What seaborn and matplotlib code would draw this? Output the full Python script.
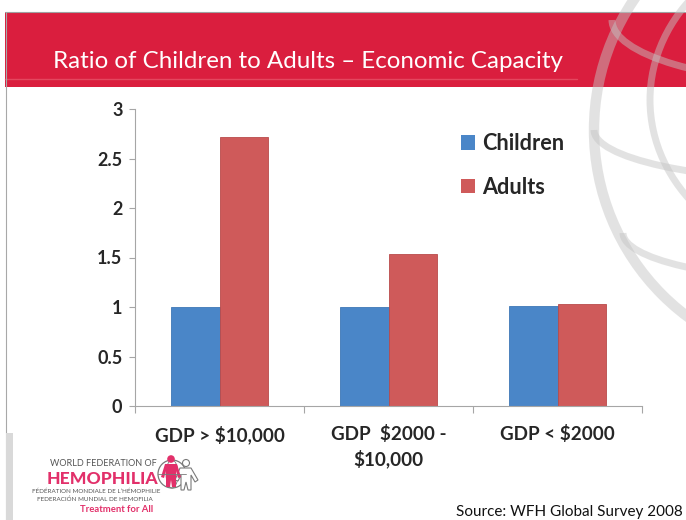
import matplotlib
matplotlib.use("Agg")
import matplotlib.pyplot as plt
import seaborn as sns
import pandas as pd
from matplotlib.patches import Rectangle, Arc, Circle, Ellipse, Polygon
from matplotlib.lines import Line2D
from matplotlib.transforms import Affine2D

# ---------------- data ----------------
categories = ["GDP > $10,000", "GDP  $2000 -\n$10,000", "GDP < $2000"]
series = ["Children", "Adults"]
children = [1.0, 1.0, 1.01]
adults = [2.72, 1.54, 1.03]
yticks = [0, 0.5, 1, 1.5, 2, 2.5, 3]
ytick_labels = ["0", "0.5", "1", "1.5", "2", "2.5", "3"]
bar_colors = ["#4A86C8", "#CF5A5A"]
title = "Ratio of Children to Adults \u2013 Economic Capacity"
source = "Source: WFH Global Survey 2008"

df = pd.DataFrame({
    "category": categories * 2,
    "series": [series[0]] * len(categories) + [series[1]] * len(categories),
    "value": children + adults,
})

sns.set_theme(style="white")
plt.rcParams["font.family"] = ["Lato", "DejaVu Sans"]

W, H = 686, 520
fig = plt.figure(figsize=(W / 100, H / 100), dpi=100)
fig.patch.set_facecolor("white")
# pixel transform, origin top-left, y down
pix = Affine2D().scale(1, -1).translate(0, H)


def fx(px):
    return px / W


def fy(py):
    return 1 - py / H


# ---------------- slide decorations ----------------
band = Rectangle((5, 12), W - 5, 75, transform=pix, facecolor="#DA1E3E",
                 edgecolor="none", zorder=-3)
fig.add_artist(band)
fig.add_artist(Line2D([5, 577], [78.5, 78.5], transform=pix, color="#E4475F",
                      lw=1.0, zorder=-2.9))
fig.add_artist(Line2D([5, W], [11.5, 11.5], transform=pix, color="#A0A0A0",
                      lw=0.8, zorder=-2.8))
fig.add_artist(Line2D([5.5, 5.5], [11.5, H], transform=pix, color="#A8A8A8",
                      lw=0.8, zorder=-2.8))
fig.add_artist(Rectangle((6, 433), 7, H - 433, transform=pix,
                         facecolor="#D9D9D9", edgecolor="none", zorder=-2.8))

# globe watermark
gkw = dict(transform=pix, color="#C4C4C4", alpha=0.48, zorder=-2)
fig.add_artist(Ellipse((827, 130), 466, 466, fill=False, lw=7.5, **gkw))
fig.add_artist(Ellipse((827, 100), 354, 316, fill=False, lw=5, **gkw))
fig.add_artist(Arc((827, 20), 430, 126, theta1=0, theta2=180, lw=5, **gkw))
fig.add_artist(Arc((827, 130), 466, 102, theta1=0, theta2=180, lw=5, **gkw))
fig.add_artist(Arc((827, 233), 408, 94, theta1=0, theta2=180, lw=5, **gkw))

fig.text(53, 61, title, transform=pix, color="white", fontsize=17.4,
         ha="left", va="center")

# ---------------- chart ----------------
ax = fig.add_axes([fx(135), fy(406), (642 - 135) / W, (406 - 109) / H])
ax.set_facecolor("none")
sns.barplot(data=df, x="category", y="value", hue="series", order=categories,
            hue_order=series, palette=bar_colors, width=0.57, saturation=1,
            ax=ax, linewidth=0)
edge_cols = ["#3E77B6", "#B94B4B"]
for cont, ec in zip(ax.containers, edge_cols):
    for b in cont:
        b.set_edgecolor(ec)
        b.set_linewidth(0.6)

ax.set_xlim(-0.5, 2.5)
ax.set_ylim(0, 3)
ax.set_xlabel("")
ax.set_ylabel("")
sns.despine(ax=ax)
for s in ["left", "bottom"]:
    ax.spines[s].set_color("#A6A6A6")
    ax.spines[s].set_linewidth(0.8)

ax.set_yticks(yticks)
ax.set_yticklabels(ytick_labels, fontsize=13, fontweight="bold")
ax.tick_params(axis="y", direction="out", length=4, width=0.8,
               color="#A6A6A6", pad=5, left=True)

ax.set_xticks([-0.5, 0.5, 1.5, 2.5])
ax.set_xticklabels([])
ax.set_xticks(range(len(categories)), minor=True)
ax.set_xticklabels(categories, minor=True, fontsize=13.6, fontweight="bold",
                   linespacing=1.4)
ax.tick_params(axis="x", which="major", direction="out", length=5, width=0.8,
               color="#A6A6A6", bottom=True)
ax.tick_params(axis="x", which="minor", length=0, pad=14, bottom=True)
for t in ax.get_xticklabels(minor=True):
    t.set_va("top")

sns.move_legend(ax, "upper left", bbox_to_anchor=(fx(461), fy(133)),
                bbox_transform=fig.transFigure, title=None, frameon=False,
                prop={"weight": "bold", "size": 15.6}, handlelength=0.65,
                handleheight=0.65, handletextpad=0.33, labelspacing=1.05,
                borderpad=0, borderaxespad=0)

# ---------------- footer ----------------
fig.text(683, 512, source, transform=pix, fontsize=11, ha="right",
         va="center", color="#111111")

# logo
pink = "#E2306A"
grey = "#555555"
fig.text(157, 464, "WORLD FEDERATION OF", transform=pix, fontsize=6.5,
         ha="right", va="center", color=grey)
fig.text(158, 479.5, "HEMOPHILIA", transform=pix, fontsize=12.6,
         fontweight="black", ha="right", va="center", color=pink)
fig.text(160, 491, "F\u00c9D\u00c9RATION MONDIALE DE L\u2019H\u00c9MOPHILIE",
         transform=pix, fontsize=4.5, ha="right", va="center", color=grey)
fig.text(153, 499, "FEDERACI\u00d3N MUNDIAL DE HEMOFILIA", transform=pix,
         fontsize=4.5, ha="right", va="center", color=grey)
fig.text(153, 510, "Treatment for All", transform=pix, fontsize=6.8,
         fontweight="bold", ha="right", va="center", color=pink)
lkw = dict(transform=pix)
fig.add_artist(Circle((172, 474), 14, fill=False, edgecolor="#7A7A7A", lw=0.9, **lkw))
fig.add_artist(Ellipse((172, 474), 12, 28, fill=False, edgecolor="#7A7A7A", lw=0.6, **lkw))
fig.add_artist(Line2D([158, 186], [474, 474], color="#7A7A7A", lw=0.6, **lkw))
fig.add_artist(Circle((186, 463), 3.5, fill=False, edgecolor="#7A7A7A", lw=0.8, **lkw))
fig.add_artist(Polygon([(180, 468), (191, 468), (198, 480), (195, 482),
                        (191, 475), (191, 490), (188, 490), (186, 482),
                        (184, 490), (181, 490), (181, 475), (178, 481),
                        (175, 480)], closed=True, facecolor="white",
                       edgecolor="#7A7A7A", lw=0.8, **lkw))
fig.add_artist(Circle((171, 459), 3.8, facecolor=pink, edgecolor="none", **lkw))
fig.add_artist(Polygon([(165, 464), (177, 464), (181, 477), (178, 478),
                        (176, 471), (176, 487), (172, 487), (171, 480),
                        (170, 487), (166, 487), (166, 471), (164, 478),
                        (161, 477)], closed=True, facecolor=pink,
                       edgecolor="none", **lkw))

fig.savefig("out.png", dpi=100)
